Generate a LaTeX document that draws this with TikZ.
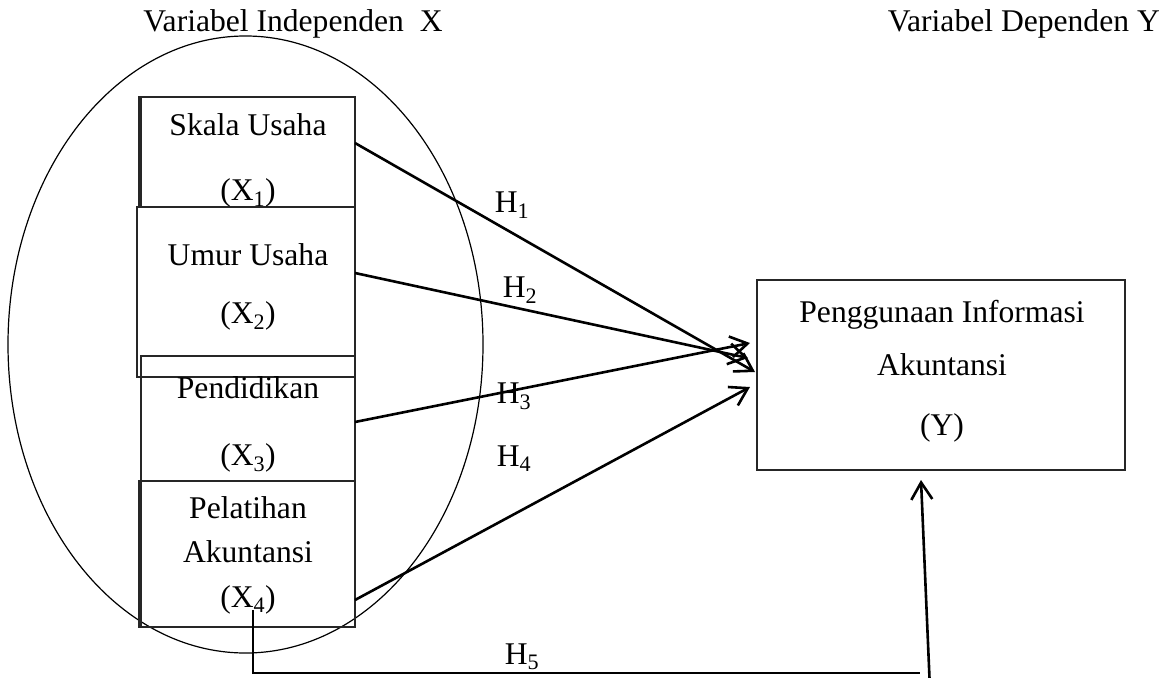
\documentclass[tikz,border=0pt]{standalone}
\usepackage{fontspec}
\setmainfont{Liberation Serif}
\usetikzlibrary{arrows.meta,shapes.geometric}
\begin{document}
\begin{tikzpicture}[x=1pt,y=-1pt,
  txt/.style={inner sep=0pt,anchor=base,font=\fontsize{31.6}{38}\selectfont},
  boxline/.style={draw=black!85,line width=1.2pt},
  conn/.style={line width=2.6pt,-{Straight Barb[length=17pt,width=21pt,line width=2.6pt]}},
  thin/.style={line width=1.2pt}]
\useasboundingbox (0,0) rectangle (1161,677);
% headings
\node[txt] (hx) at (293,32) {Variabel Independen\ \ X};
\node[txt,anchor=base east] (hy) at (1160,32) {Variabel Dependen Y};
% ellipse
\node[draw,thin,ellipse,minimum width=475pt,minimum height=617pt,inner sep=0pt] (ell) at (245.5,344.5) {};
% boxes
\draw[boxline] (139,97) rectangle (355,207);
\draw[boxline] (141,97) -- (141,207);
\draw[boxline] (137,207) rectangle (355,377);
\draw[boxline] (141,356) rectangle (355,481);
\draw[boxline] (139,481) rectangle (355,627);
\draw[boxline] (141,481) -- (141,627);
\draw[boxline] (757,280) rectangle (1125,470);
% texts
\node[txt] (t1a) at (248,135) {Skala Usaha};
\node[txt] (t1b) at (248,200) {(X\textsubscript{1})};
\node[txt] (t2a) at (248,265) {Umur Usaha};
\node[txt] (t2b) at (248,323) {(X\textsubscript{2})};
\node[txt] (t3a) at (248,398) {Pendidikan};
\node[txt] (t3b) at (248,465) {(X\textsubscript{3})};
\node[txt] (t4a) at (248,518) {Pelatihan};
\node[txt] (t4b) at (248,562) {Akuntansi};
\node[txt] (t4c) at (248,607) {(X\textsubscript{4})};
\node[txt] (ya) at (942,322) {Penggunaan Informasi};
\node[txt] (yb) at (942,375) {Akuntansi};
\node[txt] (yc) at (942,435) {(Y)};
% hypothesis labels
\node[txt] (h1) at (512,212) {H\textsubscript{1}};
\node[txt] (h2) at (520,297) {H\textsubscript{2}};
\node[txt] (h3) at (514,403) {H\textsubscript{3}};
\node[txt] (h4) at (514,466) {H\textsubscript{4}};
\node[txt] (h5) at (522,664) {H\textsubscript{5}};
% connector endpoints
\coordinate (s1) at (355,143);
\coordinate (s2) at (355,273);
\coordinate (s3) at (355,422);
\coordinate (s4) at (355,600);
\coordinate (e1) at (755,372);
\coordinate (e2) at (748,358);
\coordinate (e3) at (750,343);
\coordinate (e4) at (750,387);
\draw[conn] (s1) -- (e1);
\draw[conn] (s2) -- (e2);
\draw[conn] (s3) -- (e3);
\draw[conn] (s4) -- (e4);
% H5
\coordinate (p0) at (253,610);
\coordinate (p1) at (253,673);
\coordinate (p2) at (920,673);
\coordinate (q0) at (930,690);
\coordinate (q1) at (921,480);
\draw[thin] (p0) -- (p1) -- (p2);
\draw[conn] (q0) -- (q1);
\end{tikzpicture}
\end{document}
